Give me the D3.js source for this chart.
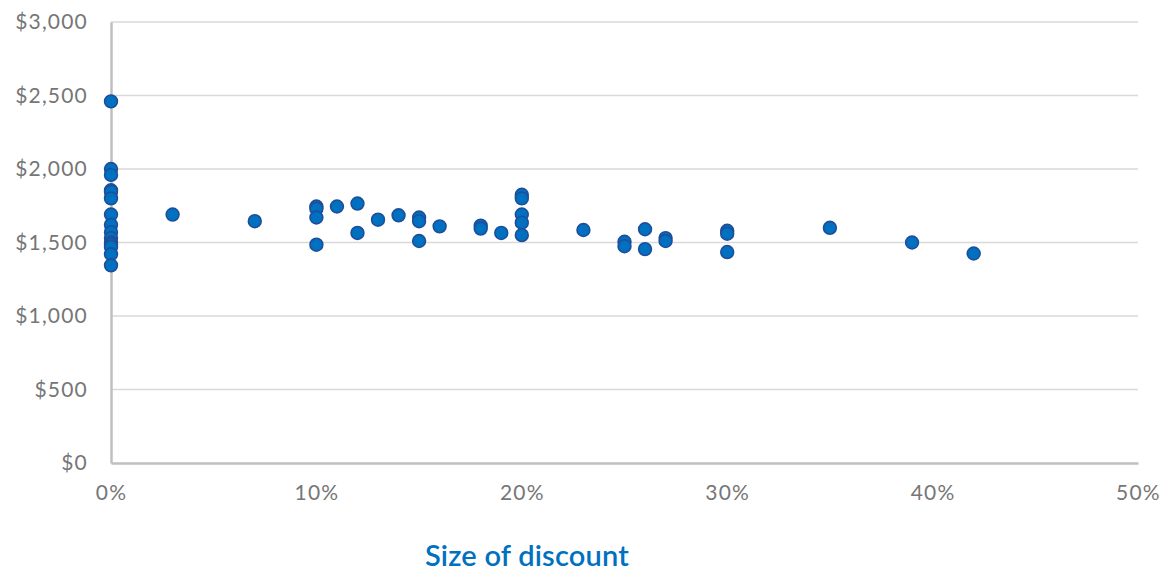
<!DOCTYPE html>
<html>
<head>
<meta charset="utf-8">
<script src="https://cdn.jsdelivr.net/npm/d3@7"></script>
<style>
  body { margin: 0; background: #fff; }
  svg text { font-family: Lato, "Open Sans", sans-serif; }
</style>
</head>
<body>
<svg id="chart" width="1172" height="572"></svg>
<script>
// discount (fraction) and order value ($) for each point
var discount = [
  0, 0, 0, 0, 0, 0, 0, 0, 0, 0, 0, 0, 0, 0, 0,
  0.03, 0.07,
  0.10, 0.10, 0.10, 0.10, 0.11, 0.12, 0.12, 0.13, 0.14,
  0.15, 0.15, 0.15, 0.16, 0.18, 0.18, 0.19,
  0.20, 0.20, 0.20, 0.20, 0.20,
  0.23, 0.25, 0.25, 0.26, 0.26, 0.27, 0.27,
  0.30, 0.30, 0.30, 0.35, 0.39, 0.42
];
var value = [
  2460, 2000, 1960, 1855, 1845, 1800, 1690, 1620, 1570, 1530, 1500, 1485, 1470, 1420, 1345,
  1690, 1645,
  1745, 1730, 1670, 1485, 1745, 1765, 1565, 1655, 1685,
  1670, 1645, 1510, 1610, 1615, 1595, 1565,
  1825, 1800, 1690, 1635, 1550,
  1585, 1505, 1475, 1590, 1455, 1530, 1510,
  1580, 1560, 1435, 1600, 1500, 1425
];
var yTicks = [0, 500, 1000, 1500, 2000, 2500, 3000];
var xTicks = [0, 0.1, 0.2, 0.3, 0.4, 0.5];
var xTitle = "Size of discount";

var svg = d3.select("#chart");
// plot edges (window.top is reserved, so use own names)
var plotLeft = 111, plotRight = 1138, plotTop = 22, plotBottom = 463;

var x = d3.scaleLinear().domain([0, 0.5]).range([plotLeft, plotRight]);
var y = d3.scaleLinear().domain([0, 3000]).range([plotBottom, plotTop]);

// horizontal gridlines
svg.append("g").selectAll("line")
    .data(yTicks.filter(function(d){ return d > 0; }))
  .enter().append("line")
    .attr("x1", plotLeft).attr("x2", plotRight)
    .attr("y1", function(d){ return y(d); })
    .attr("y2", function(d){ return y(d); })
    .attr("stroke", "#d9d9d9")
    .attr("stroke-width", 1.5);

// axes
var yAxis = d3.axisLeft(y).tickValues(yTicks).tickSize(0).tickPadding(23)
    .tickFormat(function(d){ return "$" + d3.format(",")(d); });
var xAxis = d3.axisBottom(x).tickValues(xTicks).tickSize(0).tickPadding(22)
    .tickFormat(d3.format(".0%"));

var gy = svg.append("g").attr("transform", "translate(" + plotLeft + ",0)").call(yAxis);
var gx = svg.append("g").attr("transform", "translate(0," + plotBottom + ")").call(xAxis);

[gx, gy].forEach(function(g){
  g.select(".domain").attr("stroke", "#bfbfbf").attr("stroke-width", 2.5);
  g.selectAll("text").attr("fill", "#767676")
    .style("font-size", "21px")
    .style("letter-spacing", "1.2px");
});

// points
svg.append("g").selectAll("circle")
    .data(discount.map(function(d, i){ return {d: d, v: value[i]}; }))
  .enter().append("circle")
    .attr("cx", function(p){ return x(p.d); })
    .attr("cy", function(p){ return y(p.v); })
    .attr("r", 6.4)
    .attr("fill", "#0070c0")
    .attr("stroke", "#1f4e99")
    .attr("stroke-width", 1.6);

// x axis title
svg.append("text")
    .attr("x", 527).attr("y", 566)
    .attr("text-anchor", "middle")
    .attr("fill", "#0070c0")
    .style("font-size", "29px")
    .style("font-weight", "600")
    .style("letter-spacing", "0.2px")
    .text(xTitle);
</script>
</body>
</html>
